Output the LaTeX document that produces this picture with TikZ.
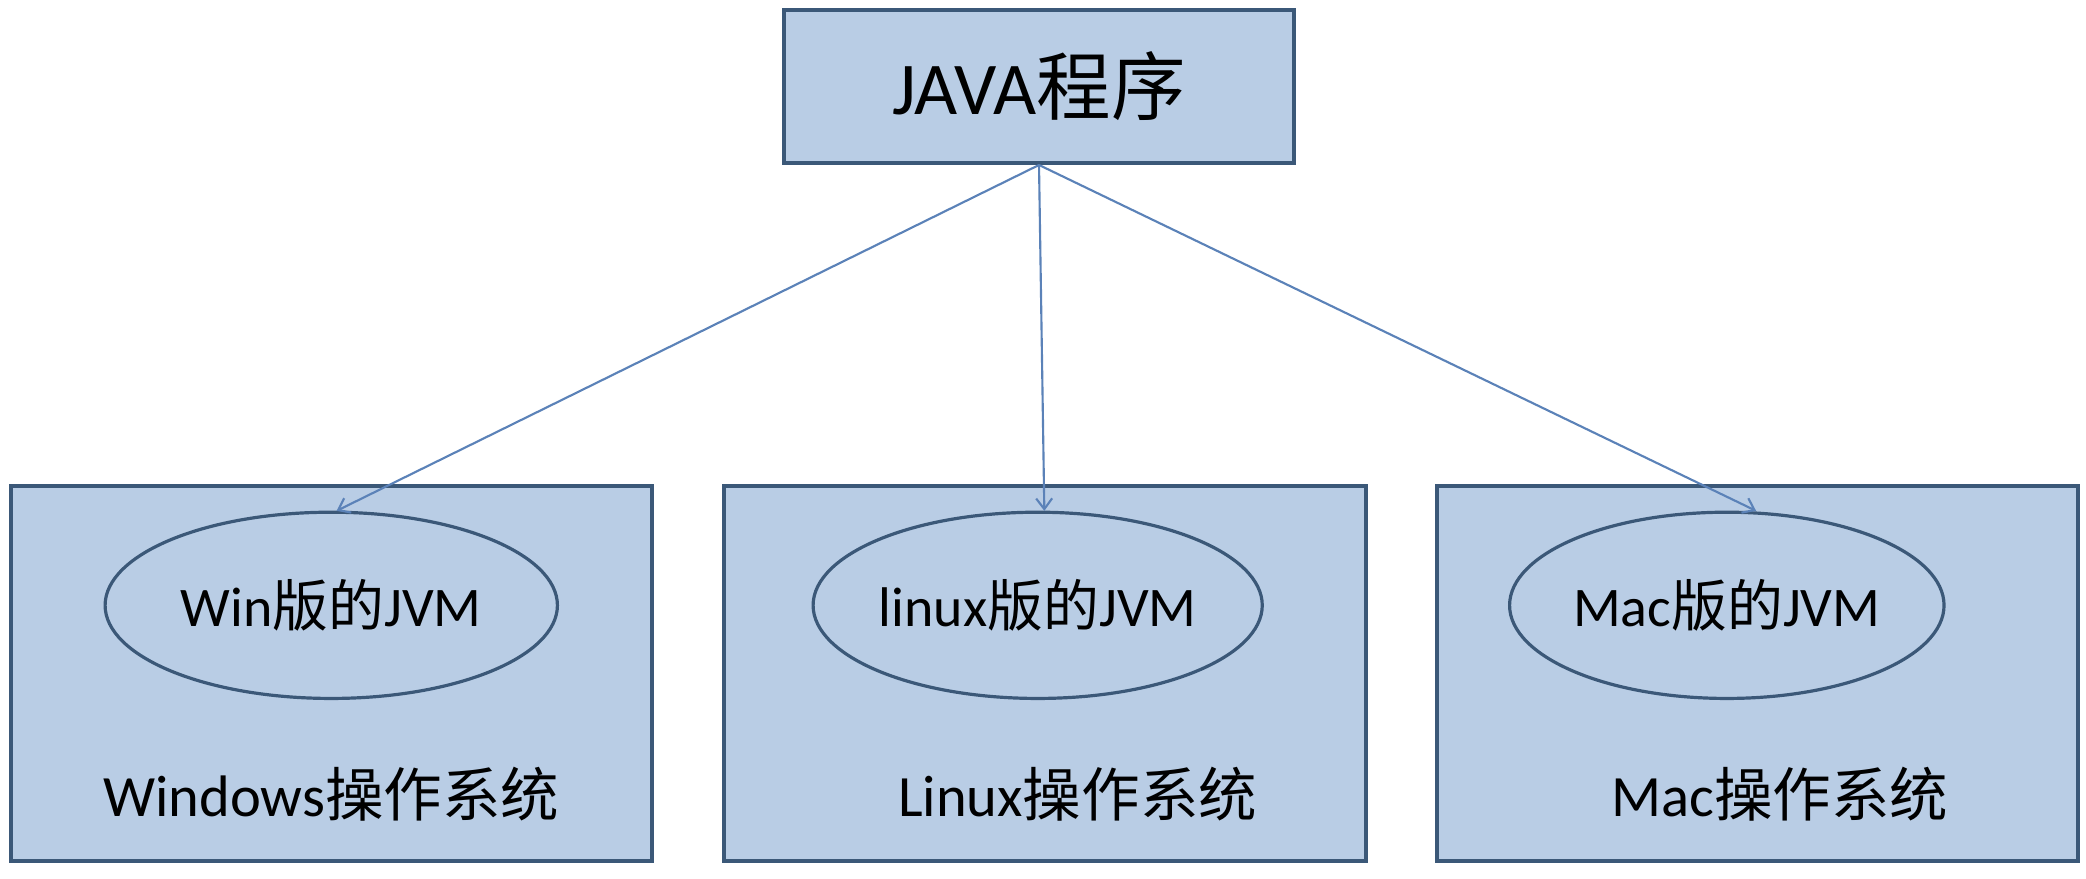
\documentclass[tikz,border=0pt]{standalone}
\usepackage{fontspec}
\setmainfont{Carlito}
\newfontfamily\cjk{Noto Sans CJK SC}
\usetikzlibrary{arrows.meta,shapes.geometric}
\definecolor{boxfill}{HTML}{B9CDE5}
\definecolor{boxline}{HTML}{3B5878}
\definecolor{arrowline}{HTML}{5B82B8}
\tikzset{>={Straight Barb[width=6pt,length=4pt]}}

\begin{document}
\begin{tikzpicture}[x=0.5pt,y=-0.5pt]
  \tikzset{
    osbox/.style={draw=boxline,line width=1.5pt,fill=boxfill,minimum width=241pt,minimum height=141pt},
    jvm/.style={ellipse,draw=boxline,line width=1.2pt,fill=boxfill,minimum width=170pt,minimum height=70pt,inner sep=0pt,font=\fontsize{21}{25}\selectfont},
    ostext/.style={font=\fontsize{22}{26}\selectfont}
  }
  \useasboundingbox (0,0) rectangle (1568,660);

  \node[draw=boxline,line width=1.5pt,fill=boxfill,minimum width=191.5pt,minimum height=57.5pt,
        font=\fontsize{28}{33}\selectfont] (prog) at (781,65) {JAVA{\cjk 程序}};

  \node[osbox] (win) at (249,506) {};
  \node[osbox] (lin) at (785.5,506) {};
  \node[osbox] (mac) at (1321,506) {};

  \node[jvm] (winjvm) at (249,455) {Win{\cjk 版的}JVM};
  \node[jvm,minimum width=166pt] (linjvm) at (780,455) {linux{\cjk 版的}JVM};
  \node[jvm,minimum width=148pt] (macjvm) at (1298,455) {Mac{\cjk 版的}JVM};

  \node[ostext] (wint) at (249,597) {Windows{\cjk 操作系统}};
  \node[ostext] (lint) at (810,597) {Linux{\cjk 操作系统}};
  \node[ostext] (mact) at (1338,597) {Mac{\cjk 操作系统}};

  \coordinate (e1) at (253,384);
  \coordinate (e2) at (785,384);
  \coordinate (e3) at (1320,384);
  \draw[->,arrowline,line width=0.8pt] (prog.south) -- (e1);
  \draw[->,arrowline,line width=0.8pt] (prog.south) -- (e2);
  \draw[->,arrowline,line width=0.8pt] (prog.south) -- (e3);
\end{tikzpicture}
\end{document}
